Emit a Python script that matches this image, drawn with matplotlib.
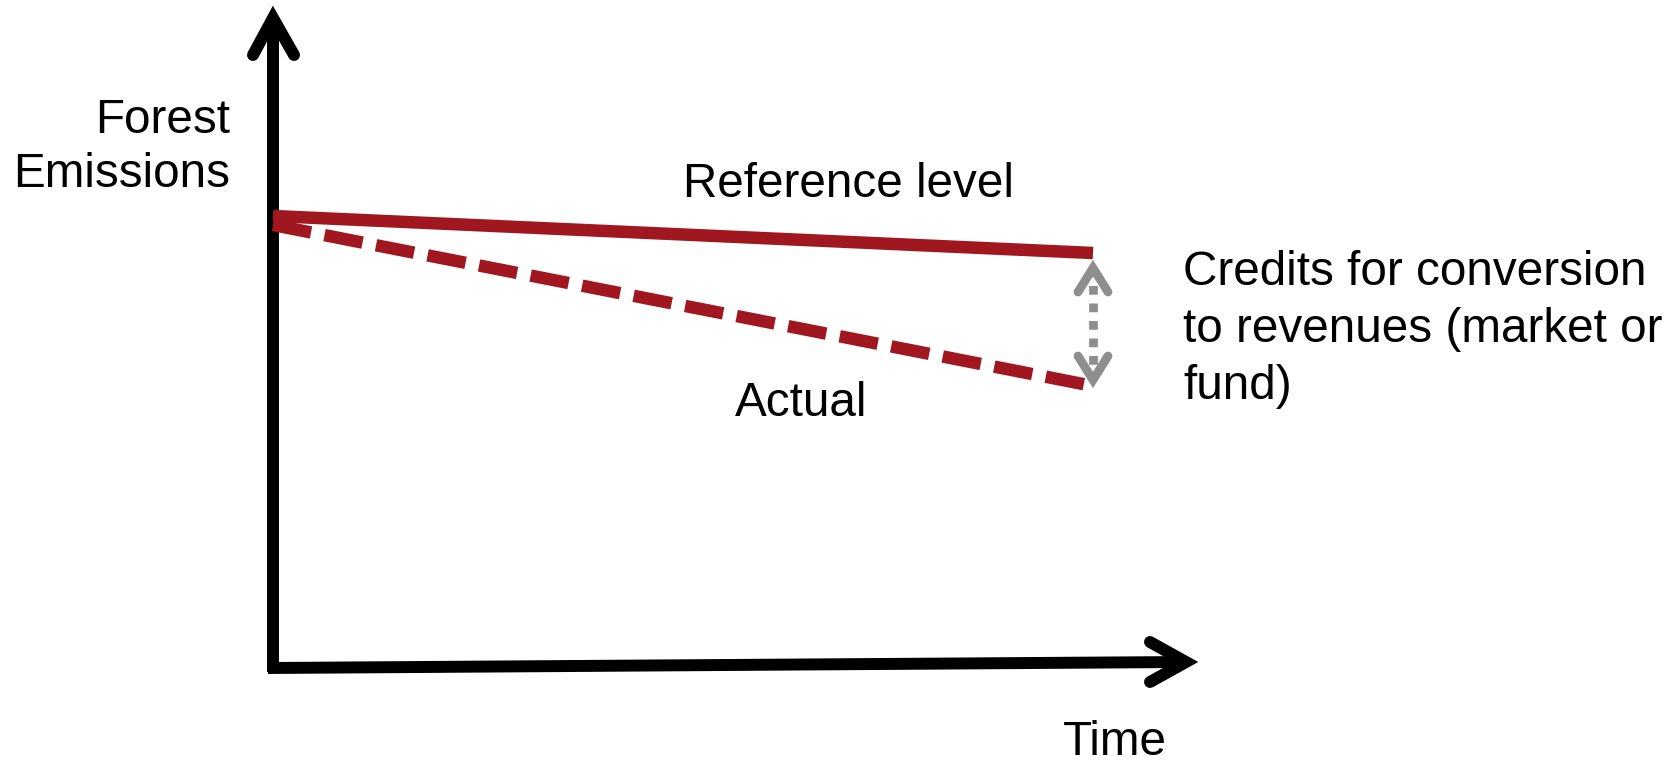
import matplotlib
matplotlib.use("Agg")
import matplotlib.pyplot as plt

# ---- data (conceptual diagram) ----
time = [0.0, 10.0]
reference_level = [9.04, 8.30]
actual = [8.86, 5.64]
labels_y = ["Forest", "Emissions"]
label_x = "Time"
label_ref = "Reference level"
label_actual = "Actual"
label_credits = ["Credits for conversion", "to revenues (market or", "fund)"]

W, H = 1681, 762
DPI = 100
RED = "#A0171F"
GRAY = "#8E8E8E"
FONT = "Liberation Sans"
FS = 34.3

fig = plt.figure(figsize=(W / DPI, H / DPI), dpi=DPI)
# axes origin at pixel (273, 668); 82 px per x-unit, 50 px per y-unit
x0, y0 = 273, 668
sx, sy = 82.0, 50.0
ax = fig.add_axes([x0 / W, (H - y0) / H, 10 * sx / W, 12 * sy / H])
ax.set_xlim(0, 10)
ax.set_ylim(0, 12)
ax.axis("off")

def px(x, y):
    return ((x - x0) / sx, (y0 - y) / sy)

LW_AX = 8.6
LW_RED = 9.0
LW_G = 6.3

# axes lines
ax.plot([px(273, 672)[0], px(273, 18)[0]], [px(273, 672)[1], px(273, 18)[1]],
        color="black", lw=LW_AX, solid_capstyle="butt", clip_on=False)
ax.plot([px(268, 668)[0], px(1185, 662)[0]], [px(268, 668)[1], px(1185, 662)[1]],
        color="black", lw=LW_AX, solid_capstyle="butt", clip_on=False)
# arrow heads (chevrons)
def chevron(pts, color, lw):
    xs = [px(*p)[0] for p in pts]
    ys = [px(*p)[1] for p in pts]
    ax.plot(xs, ys, color=color, lw=lw, solid_capstyle="round",
            solid_joinstyle="miter", clip_on=False)

chevron([(253, 55), (273, 18), (294, 55)], "black", LW_AX)
chevron([(1150, 642), (1186, 662), (1150, 682)], "black", LW_AX)

# series
ax.plot(time, reference_level, color=RED, lw=LW_RED, solid_capstyle="butt", clip_on=False)
ax.plot(time, actual, color=RED, lw=LW_RED, dashes=(3.1, 1.1),
        dash_capstyle="butt", clip_on=False)

# gap arrow (dotted gray)
gx = time[1]
ax.plot([gx, gx], [reference_level[1] - 0.3, actual[1] + 0.3], color=GRAY, lw=LW_G,
        dashes=(1.0, 1.0), dash_capstyle="butt", clip_on=False)
chevron([(1078, 292), (1093, 268), (1108, 292)], GRAY, LW_G)
chevron([(1078, 356), (1093, 380), (1108, 356)], GRAY, LW_G)

def ftext(x, y, s, ha="left"):
    fig.text(x / W, 1 - y / H, s, ha=ha, va="baseline", fontsize=FS, family=FONT)

ftext(230, 133, labels_y[0], ha="right")
ftext(230, 187, labels_y[1], ha="right")
ftext(683, 197, label_ref)
ftext(735, 416, label_actual)
ftext(1063, 755, label_x)
for i, s in enumerate(label_credits):
    ftext(1183, 285 + 57 * i, s)

fig.savefig("out.png", dpi=DPI)
